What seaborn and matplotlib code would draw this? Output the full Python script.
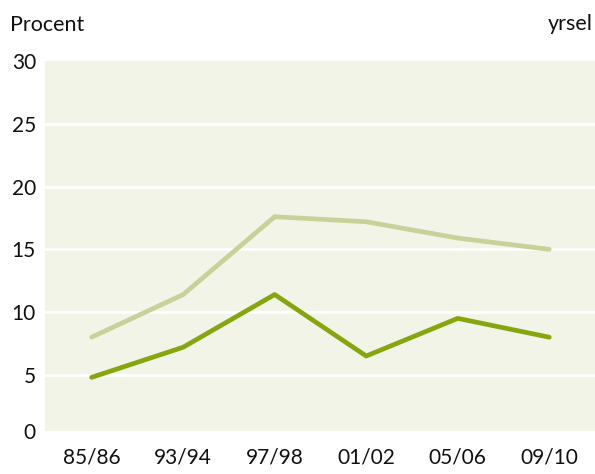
import pandas as pd
import numpy as np
import seaborn as sns
import matplotlib.pyplot as plt

# data
years = ['85/86', '93/94', '97/98', '01/02', '05/06', '09/10']
serie_ljus = [8.0, 11.4, 17.6, 17.2, 15.9, 15.0]
serie_mork = [4.8, 7.2, 11.4, 6.5, 9.5, 8.0]
ytick_labels = ['0', '5', '10', '15', '20', '25', '30']

df = pd.DataFrame({
    'pos': list(range(len(years))) * 2,
    'varde': serie_ljus + serie_mork,
    'serie': ['ljus'] * len(years) + ['mork'] * len(years),
})

sns.set_theme(style='white')
plt.rcParams['font.family'] = ['Lato', 'DejaVu Sans']

fig = plt.figure(figsize=(5.95, 4.74), dpi=100)
ax = fig.add_axes([0.0756, 0.0914, 0.9244, 0.7796])
ax.set_facecolor('#f2f4e8')

sns.lineplot(data=df, x='pos', y='varde', hue='serie',
             palette={'ljus': '#c6d297', 'mork': '#87a50e'},
             linewidth=3.4, legend=False, ax=ax, sort=False)
for line in ax.get_lines():
    line.set_solid_capstyle('round')
    line.set_solid_joinstyle('round')

# the box stops a little above zero, the 0 label sits on its bottom edge
ax.set_xlim(-0.51, 5.5)
ax.set_ylim(0.55, 29.85)
ax.set_yticks([0.55, 5, 10, 15, 20, 25, 30])
ax.set_yticklabels(ytick_labels)
ax.set_xticks(range(len(years)))
ax.set_xticklabels(years)
for y in [5, 10, 15, 20, 25]:
    ax.axhline(y, color='white', linewidth=2, zorder=0.5)
ax.tick_params(axis='both', length=0, labelsize=15, colors='#111111')
ax.tick_params(axis='x', pad=12)
ax.tick_params(axis='y', pad=6.5)
ax.set_xlabel('')
ax.set_ylabel('')
for s in ax.spines.values():
    s.set_visible(False)

fig.text(10 / 595, 1 - 31 / 474, 'Procent', fontsize=15.5, ha='left', va='baseline', color='#111111')
fig.text(593 / 595, 1 - 30 / 474, 'yrsel', fontsize=15.5, ha='right', va='baseline', color='#111111')

plt.savefig('out.png', dpi=100)
